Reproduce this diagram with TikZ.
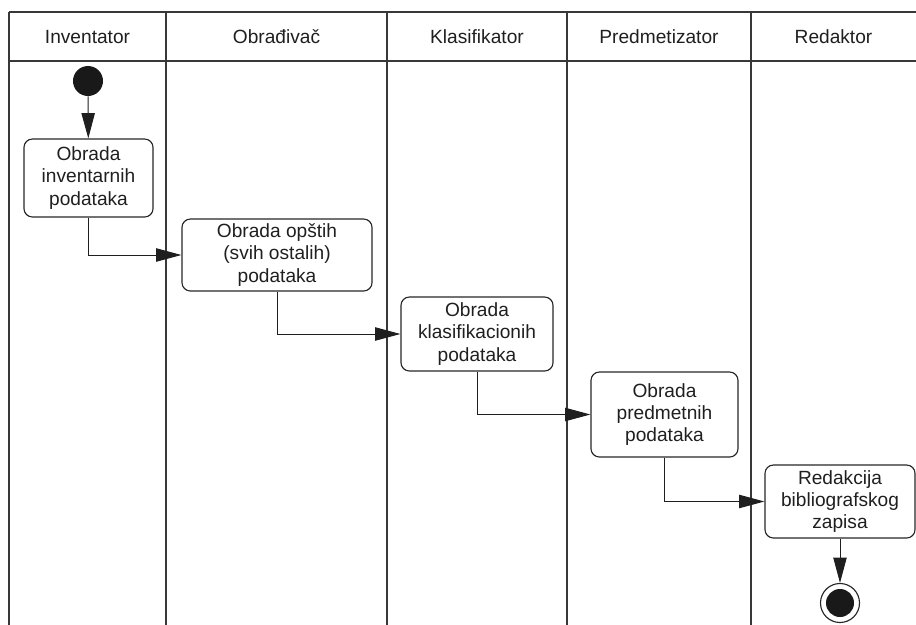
\documentclass[tikz,border=0pt]{standalone}
\usepackage{fontspec}
\setmainfont{Liberation Sans}
\usetikzlibrary{arrows.meta,positioning}

\begin{document}
\begin{tikzpicture}[x=0.025cm,y=-0.025cm,
    lane/.style={draw=black!78,line width=1.4pt},
    head/.style={text=black!88,font=\fontsize{13.6}{16}\selectfont},
    action/.style={draw=black!85,line width=0.8pt,rounded corners=6pt,align=center,inner sep=0pt,text=black!88,font=\fontsize{13.6}{15.8}\selectfont},
    flow/.style={draw=black!88,line width=0.7pt,-{Triangle[length=18pt,width=9.5pt]}}]
    \useasboundingbox (0,0) rectangle (916,625);

    \draw[lane] (9,12) -- (916,12);
    \draw[lane] (9,61) -- (916,61);
    \foreach \x in {9,166,387,567,751}
        \draw[lane] (\x,12) -- (\x,625);

    \foreach \x/\t/\n in {87.5/Inventator/inv, 276.5/Obrađivač/obr, 477/Klasifikator/kla, 659/Predmetizator/pre, 833.5/Redaktor/red}
        \node[head] (\n) at (\x,37) {\t};

    \node[circle, fill=black!90, minimum size=0.75cm, inner sep=0pt] (start) at (88,81) {};
    \node[action, minimum width=3.225cm, minimum height=1.95cm] (invdata) at (88.5,178) {Obrada\\inventarnih\\podataka};
    \node[action, minimum width=4.75cm, minimum height=1.8cm] (gendata) at (277,255) {Obrada opštih\\(svih ostalih)\\podataka};
    \node[action, minimum width=3.8cm, minimum height=1.85cm] (clsdata) at (477,334) {Obrada\\klasifikacionih\\podataka};
    \node[action, minimum width=3.675cm, minimum height=2.125cm] (subdata) at (664.5,414.5) {Obrada\\predmetnih\\podataka};
    \node[action, minimum width=3.75cm, minimum height=1.825cm] (edit) at (840,501.5) {Redakcija\\bibliografskog\\zapisa};
    \node[circle, draw=black!85, line width=0.8pt, minimum size=0.975cm, inner sep=0pt] (end) at (840,603) {};
    \node[circle, fill=black!90, minimum size=0.7cm, inner sep=0pt] (endin) at (end.center) {};

    \draw[flow] (start) -- (invdata);
    \draw[flow] (invdata.south) |- (gendata.west);
    \draw[flow] (gendata.south) |- (clsdata.west);
    \draw[flow] (clsdata.south) |- (subdata.west);
    \draw[flow] (subdata.south) |- (edit.west);
    \draw[flow] (edit) -- (end);
\end{tikzpicture}
\end{document}
